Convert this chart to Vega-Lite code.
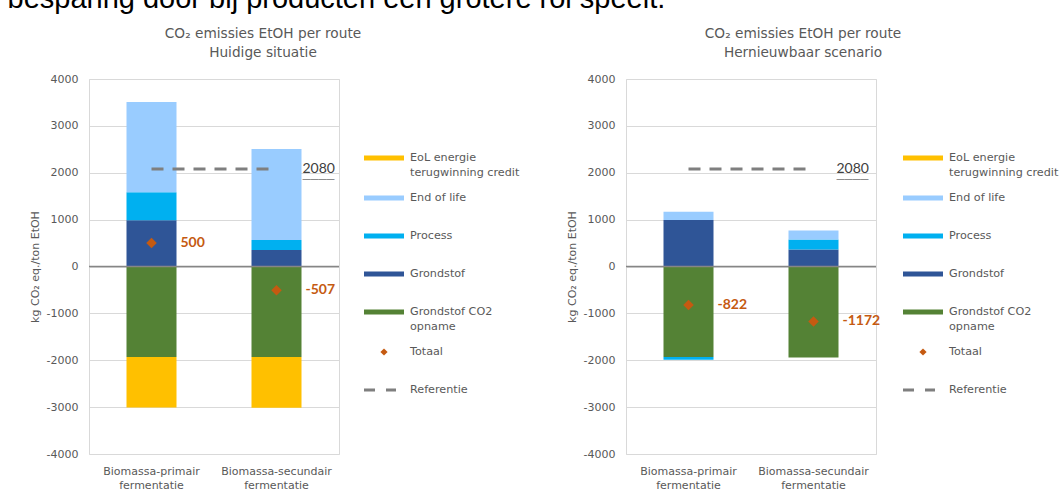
{
  "$schema": "https://vega.github.io/schema/vega-lite/v6.json",
  "background": "white",
  "autosize": {"type": "pad"},
  "padding": {"left": 7, "top": -16, "right": 10, "bottom": 0},
  "title": {
    "text": "besparing door bij producten een grotere rol speelt.",
    "anchor": "start",
    "frame": "bounds",
    "font": "Liberation Sans",
    "fontSize": 29,
    "fontWeight": "normal",
    "color": "#000000",
    "baseline": "alphabetic",
    "offset": -10,
    "dx": -21
  },
  "resolve": {"scale": {"color": "independent"}, "legend": {"color": "independent"}},
  "datasets": {
    "bars": [
      {"panel": "Huidige situatie", "route": "Biomassa-primair fermentatie", "series": "Grondstof CO2 opname", "rank": 1, "value": -1930},
      {"panel": "Huidige situatie", "route": "Biomassa-primair fermentatie", "series": "Grondstof", "rank": 2, "value": 985},
      {"panel": "Huidige situatie", "route": "Biomassa-primair fermentatie", "series": "Process", "rank": 3, "value": 600},
      {"panel": "Huidige situatie", "route": "Biomassa-primair fermentatie", "series": "End of life", "rank": 4, "value": 1925},
      {"panel": "Huidige situatie", "route": "Biomassa-primair fermentatie", "series": "EoL energie terugwinning credit", "rank": 5, "value": -1080},
      {"panel": "Huidige situatie", "route": "Biomassa-secundair fermentatie", "series": "Grondstof CO2 opname", "rank": 1, "value": -1930},
      {"panel": "Huidige situatie", "route": "Biomassa-secundair fermentatie", "series": "Grondstof", "rank": 2, "value": 352},
      {"panel": "Huidige situatie", "route": "Biomassa-secundair fermentatie", "series": "Process", "rank": 3, "value": 213},
      {"panel": "Huidige situatie", "route": "Biomassa-secundair fermentatie", "series": "End of life", "rank": 4, "value": 1940},
      {"panel": "Huidige situatie", "route": "Biomassa-secundair fermentatie", "series": "EoL energie terugwinning credit", "rank": 5, "value": -1082},
      {"panel": "Hernieuwbaar scenario", "route": "Biomassa-primair fermentatie", "series": "Grondstof CO2 opname", "rank": 1, "value": -1930},
      {"panel": "Hernieuwbaar scenario", "route": "Biomassa-primair fermentatie", "series": "Grondstof", "rank": 2, "value": 990},
      {"panel": "Hernieuwbaar scenario", "route": "Biomassa-primair fermentatie", "series": "Process", "rank": 3, "value": -60},
      {"panel": "Hernieuwbaar scenario", "route": "Biomassa-primair fermentatie", "series": "End of life", "rank": 4, "value": 178},
      {"panel": "Hernieuwbaar scenario", "route": "Biomassa-secundair fermentatie", "series": "Grondstof CO2 opname", "rank": 1, "value": -1942},
      {"panel": "Hernieuwbaar scenario", "route": "Biomassa-secundair fermentatie", "series": "Grondstof", "rank": 2, "value": 362},
      {"panel": "Hernieuwbaar scenario", "route": "Biomassa-secundair fermentatie", "series": "Process", "rank": 3, "value": 213},
      {"panel": "Hernieuwbaar scenario", "route": "Biomassa-secundair fermentatie", "series": "End of life", "rank": 4, "value": 195}
    ],
    "totals": [
      {"panel": "Huidige situatie", "route": "Biomassa-primair fermentatie", "value": 500},
      {"panel": "Huidige situatie", "route": "Biomassa-secundair fermentatie", "value": -507},
      {"panel": "Hernieuwbaar scenario", "route": "Biomassa-primair fermentatie", "value": -822},
      {"panel": "Hernieuwbaar scenario", "route": "Biomassa-secundair fermentatie", "value": -1172}
    ],
    "refs": [
      {"panel": "Huidige situatie", "route": "Biomassa-primair fermentatie", "value": 2080},
      {"panel": "Huidige situatie", "route": "Biomassa-secundair fermentatie", "value": 2080},
      {"panel": "Hernieuwbaar scenario", "route": "Biomassa-primair fermentatie", "value": 2080},
      {"panel": "Hernieuwbaar scenario", "route": "Biomassa-secundair fermentatie", "value": 2080}
    ]
  },
  "spacing": 44,
  "hconcat": [
    {
      "width": 250,
      "height": 375,
      "title": {"text": ["CO₂ emissies EtOH per route", "Huidige situatie"], "anchor": "middle", "dx": 49, "offset": 13, "font": "DejaVu Sans", "fontSize": 13.7, "fontWeight": "normal", "color": "#595959", "lineHeight": 19},
      "layer": [
        {
          "data": {"name": "bars"},
          "transform": [{"filter": "datum.panel == 'Huidige situatie'"}],
          "mark": {"type": "bar"},
          "encoding": {
            "x": {"field": "route", "type": "nominal", "sort": ["Biomassa-primair fermentatie", "Biomassa-secundair fermentatie"], "title": null, "scale": {"paddingInner": 0.6, "paddingOuter": 0.3}, "axis": {"labelExpr": "split(datum.label, ' ')"}},
            "y": {"field": "value", "type": "quantitative", "stack": "zero", "title": "kg CO₂ eq./ton EtOH", "scale": {"domain": [-4000, 4000], "nice": false}, "axis": {"labelExpr": "toString(datum.value)"}},
            "color": {
              "field": "series", "type": "nominal",
              "scale": {
                "domain": ["EoL energie terugwinning credit", "End of life", "Process", "Grondstof", "Grondstof CO2 opname", "Totaal", "Referentie"],
                "range": ["#FFC000", "#99CCFF", "#00B0F0", "#2F5597", "#548235", "#C55A11", "#7F7F7F"]
              },
              "legend": {
                "orient": "none", "legendX": 275, "legendY": 60, "title": null, "padding": 0,
                "symbolSize": 1600, "symbolStrokeWidth": 0, "clipHeight": 38, "rowPadding": 0, "labelOffset": 6,
                "labelFont": "DejaVu Sans", "labelFontSize": 11.2, "labelColor": "#595959", "labelBaseline": "middle", "labelLimit": 300,
                "labelExpr": "datum.label === 'EoL energie terugwinning credit' ? ['EoL energie', 'terugwinning credit'] : datum.label === 'Grondstof CO2 opname' ? ['Grondstof CO2', 'opname'] : datum.label",
                "encode": {
                  "symbols": {"update": {"shape": {"signal": "datum.value === 'Totaal' ? 'M0,-0.18L0.18,0L0,0.18L-0.18,0Z' : datum.value === 'Referentie' ? 'M-1,-0.075L-0.45,-0.075L-0.45,0.075L-1,0.075Z M0.1,-0.075L0.6,-0.075L0.6,0.075L0.1,0.075Z' : 'M-1,-0.125L1,-0.125L1,0.125L-1,0.125Z'"}}},
                  "labels": {"update": {"lineHeight": {"value": 15}}}
                }
              }
            },
            "order": {"field": "rank", "type": "quantitative"}
          }
        },
        {
          "data": {"values": [{}]},
          "mark": {"type": "rule", "color": "#868686", "strokeWidth": 1.5},
          "encoding": {"y": {"datum": 0, "type": "quantitative"}}
        },
        {
          "data": {"name": "refs"},
          "transform": [{"filter": "datum.panel == 'Huidige situatie'"}],
          "mark": {"type": "line", "color": "#7F7F7F", "strokeWidth": 3, "strokeDash": [12, 9], "strokeCap": "butt"},
          "encoding": {
            "x": {"field": "route", "type": "nominal", "sort": ["Biomassa-primair fermentatie", "Biomassa-secundair fermentatie"], "title": null},
            "y": {"field": "value", "type": "quantitative", "title": "kg CO₂ eq./ton EtOH"}
          }
        },
        {
          "data": {"name": "refs"},
          "transform": [{"filter": "datum.panel == 'Huidige situatie' && datum.route == 'Biomassa-secundair fermentatie'"}],
          "mark": {"type": "text", "align": "left", "baseline": "middle", "dx": 26, "font": "Lato", "fontSize": 14, "color": "#404040"},
          "encoding": {
            "x": {"field": "route", "type": "nominal", "sort": ["Biomassa-primair fermentatie", "Biomassa-secundair fermentatie"], "title": null},
            "y": {"field": "value", "type": "quantitative", "title": "kg CO₂ eq./ton EtOH"},
            "text": {"field": "value", "type": "nominal"}
          }
        },
        {
          "data": {"name": "refs"},
          "transform": [{"filter": "datum.panel == 'Huidige situatie' && datum.route == 'Biomassa-secundair fermentatie'"}],
          "mark": {"type": "text", "align": "left", "baseline": "middle", "dx": 26, "dy": 3, "font": "DejaVu Sans Mono", "fontSize": 13.3, "color": "#404040", "text": "____"},
          "encoding": {
            "x": {"field": "route", "type": "nominal", "sort": ["Biomassa-primair fermentatie", "Biomassa-secundair fermentatie"], "title": null},
            "y": {"field": "value", "type": "quantitative", "title": "kg CO₂ eq./ton EtOH"}
          }
        },
        {
          "data": {"name": "totals"},
          "transform": [{"filter": "datum.panel == 'Huidige situatie'"}],
          "mark": {"type": "point", "shape": "diamond", "filled": true, "color": "#C55A11", "size": 110, "opacity": 1},
          "encoding": {
            "x": {"field": "route", "type": "nominal", "sort": ["Biomassa-primair fermentatie", "Biomassa-secundair fermentatie"], "title": null},
            "y": {"field": "value", "type": "quantitative", "title": "kg CO₂ eq./ton EtOH"}
          }
        },
        {
          "data": {"name": "totals"},
          "transform": [{"filter": "datum.panel == 'Huidige situatie'"}],
          "mark": {"type": "text", "align": "left", "baseline": "middle", "dx": 29, "font": "Lato", "fontSize": 14, "fontWeight": "bold", "color": "#C55A11"},
          "encoding": {
            "x": {"field": "route", "type": "nominal", "sort": ["Biomassa-primair fermentatie", "Biomassa-secundair fermentatie"], "title": null},
            "y": {"field": "value", "type": "quantitative", "title": "kg CO₂ eq./ton EtOH"},
            "text": {"field": "value", "type": "nominal"}
          }
        }
      ]
    },
    {
      "width": 250,
      "height": 375,
      "title": {"text": ["CO₂ emissies EtOH per route", "Hernieuwbaar scenario"], "anchor": "middle", "dx": 52, "offset": 13, "font": "DejaVu Sans", "fontSize": 13.7, "fontWeight": "normal", "color": "#595959", "lineHeight": 19},
      "layer": [
        {
          "data": {"name": "bars"},
          "transform": [{"filter": "datum.panel == 'Hernieuwbaar scenario'"}],
          "mark": {"type": "bar"},
          "encoding": {
            "x": {"field": "route", "type": "nominal", "sort": ["Biomassa-primair fermentatie", "Biomassa-secundair fermentatie"], "title": null, "scale": {"paddingInner": 0.6, "paddingOuter": 0.3}, "axis": {"labelExpr": "split(datum.label, ' ')"}},
            "y": {"field": "value", "type": "quantitative", "stack": "zero", "title": "kg CO₂ eq./ton EtOH", "scale": {"domain": [-4000, 4000], "nice": false}, "axis": {"labelExpr": "toString(datum.value)"}},
            "color": {
              "field": "series", "type": "nominal",
              "scale": {
                "domain": ["EoL energie terugwinning credit", "End of life", "Process", "Grondstof", "Grondstof CO2 opname", "Totaal", "Referentie"],
                "range": ["#FFC000", "#99CCFF", "#00B0F0", "#2F5597", "#548235", "#C55A11", "#7F7F7F"]
              },
              "legend": {
                "orient": "none", "legendX": 277, "legendY": 60, "title": null, "padding": 0,
                "symbolSize": 1600, "symbolStrokeWidth": 0, "clipHeight": 38, "rowPadding": 0, "labelOffset": 6,
                "labelFont": "DejaVu Sans", "labelFontSize": 11.2, "labelColor": "#595959", "labelBaseline": "middle", "labelLimit": 300,
                "labelExpr": "datum.label === 'EoL energie terugwinning credit' ? ['EoL energie', 'terugwinning credit'] : datum.label === 'Grondstof CO2 opname' ? ['Grondstof CO2', 'opname'] : datum.label",
                "encode": {
                  "symbols": {"update": {"shape": {"signal": "datum.value === 'Totaal' ? 'M0,-0.18L0.18,0L0,0.18L-0.18,0Z' : datum.value === 'Referentie' ? 'M-1,-0.075L-0.45,-0.075L-0.45,0.075L-1,0.075Z M0.1,-0.075L0.6,-0.075L0.6,0.075L0.1,0.075Z' : 'M-1,-0.125L1,-0.125L1,0.125L-1,0.125Z'"}}},
                  "labels": {"update": {"lineHeight": {"value": 15}}}
                }
              }
            },
            "order": {"field": "rank", "type": "quantitative"}
          }
        },
        {
          "data": {"values": [{}]},
          "mark": {"type": "rule", "color": "#868686", "strokeWidth": 1.5},
          "encoding": {"y": {"datum": 0, "type": "quantitative"}}
        },
        {
          "data": {"name": "refs"},
          "transform": [{"filter": "datum.panel == 'Hernieuwbaar scenario'"}],
          "mark": {"type": "line", "color": "#7F7F7F", "strokeWidth": 3, "strokeDash": [12, 9], "strokeCap": "butt"},
          "encoding": {
            "x": {"field": "route", "type": "nominal", "sort": ["Biomassa-primair fermentatie", "Biomassa-secundair fermentatie"], "title": null},
            "y": {"field": "value", "type": "quantitative", "title": "kg CO₂ eq./ton EtOH"}
          }
        },
        {
          "data": {"name": "refs"},
          "transform": [{"filter": "datum.panel == 'Hernieuwbaar scenario' && datum.route == 'Biomassa-secundair fermentatie'"}],
          "mark": {"type": "text", "align": "left", "baseline": "middle", "dx": 23, "font": "Lato", "fontSize": 14, "color": "#404040"},
          "encoding": {
            "x": {"field": "route", "type": "nominal", "sort": ["Biomassa-primair fermentatie", "Biomassa-secundair fermentatie"], "title": null},
            "y": {"field": "value", "type": "quantitative", "title": "kg CO₂ eq./ton EtOH"},
            "text": {"field": "value", "type": "nominal"}
          }
        },
        {
          "data": {"name": "refs"},
          "transform": [{"filter": "datum.panel == 'Hernieuwbaar scenario' && datum.route == 'Biomassa-secundair fermentatie'"}],
          "mark": {"type": "text", "align": "left", "baseline": "middle", "dx": 23, "dy": 3, "font": "DejaVu Sans Mono", "fontSize": 13.3, "color": "#404040", "text": "____"},
          "encoding": {
            "x": {"field": "route", "type": "nominal", "sort": ["Biomassa-primair fermentatie", "Biomassa-secundair fermentatie"], "title": null},
            "y": {"field": "value", "type": "quantitative", "title": "kg CO₂ eq./ton EtOH"}
          }
        },
        {
          "data": {"name": "totals"},
          "transform": [{"filter": "datum.panel == 'Hernieuwbaar scenario'"}],
          "mark": {"type": "point", "shape": "diamond", "filled": true, "color": "#C55A11", "size": 110, "opacity": 1},
          "encoding": {
            "x": {"field": "route", "type": "nominal", "sort": ["Biomassa-primair fermentatie", "Biomassa-secundair fermentatie"], "title": null},
            "y": {"field": "value", "type": "quantitative", "title": "kg CO₂ eq./ton EtOH"}
          }
        },
        {
          "data": {"name": "totals"},
          "transform": [{"filter": "datum.panel == 'Hernieuwbaar scenario'"}],
          "mark": {"type": "text", "align": "left", "baseline": "middle", "dx": 29, "font": "Lato", "fontSize": 14, "fontWeight": "bold", "color": "#C55A11"},
          "encoding": {
            "x": {"field": "route", "type": "nominal", "sort": ["Biomassa-primair fermentatie", "Biomassa-secundair fermentatie"], "title": null},
            "y": {"field": "value", "type": "quantitative", "title": "kg CO₂ eq./ton EtOH"},
            "text": {"field": "value", "type": "nominal"}
          }
        }
      ]
    }
  ],
  "config": {
    "font": "DejaVu Sans",
    "view": {"stroke": "#D9D9D9"},
    "axis": {"labelFont": "DejaVu Sans", "labelFontSize": 11, "labelColor": "#595959", "titleFont": "DejaVu Sans", "titleFontSize": 11, "titleColor": "#595959", "titleFontWeight": "normal", "ticks": false, "domain": false},
    "axisX": {"grid": false, "labelAngle": 0, "labelPadding": 11, "labelLineHeight": 14},
    "axisY": {"grid": true, "gridColor": "#D9D9D9", "gridWidth": 1, "labelPadding": 11, "titlePadding": 6, "values": [-4000, -3000, -2000, -1000, 0, 1000, 2000, 3000, 4000]}
  }
}
